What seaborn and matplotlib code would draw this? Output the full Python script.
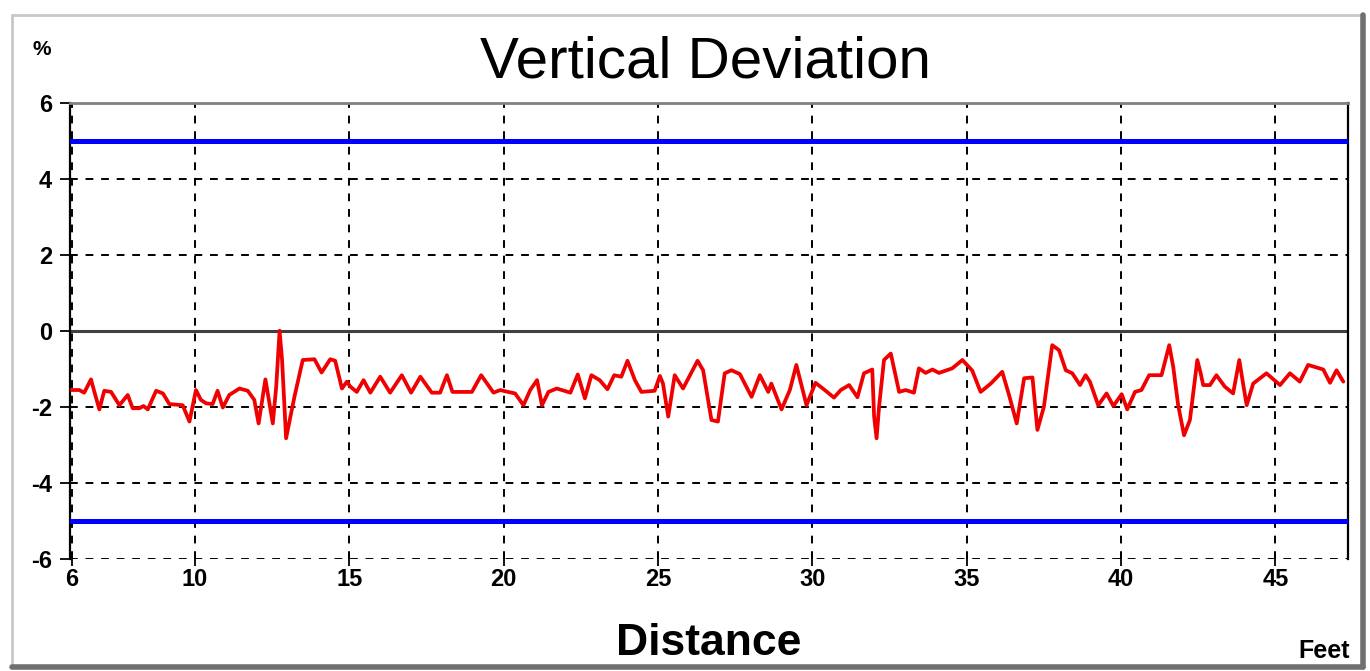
import pandas as pd
import matplotlib
matplotlib.use("Agg")
import matplotlib.pyplot as plt
import seaborn as sns
from matplotlib.lines import Line2D

# distance (feet) and vertical deviation (%)
distance = [6.0, 6.25, 6.41, 6.63, 6.74, 6.90, 7.06, 7.28, 7.55, 7.82, 7.98, 8.20, 8.33, 8.47,
            8.74, 8.96, 9.17, 9.60, 9.82, 10.03, 10.19, 10.36, 10.57, 10.73, 10.90, 11.11,
            11.44, 11.71, 11.92, 12.06, 12.28, 12.41, 12.52, 12.63, 12.74, 12.82, 12.95,
            13.22, 13.49, 13.87, 14.10, 14.38, 14.54, 14.76, 14.92, 15.03, 15.24, 15.46,
            15.68, 16.00, 16.32, 16.70, 17.00, 17.30, 17.67, 17.94, 18.16, 18.34, 18.97,
            19.27, 19.67, 19.89, 20.03, 20.37, 20.64, 20.86, 21.08, 21.24, 21.45, 21.72,
            22.16, 22.40, 22.63, 22.84, 23.11, 23.36, 23.58, 23.81, 24.01, 24.25, 24.46,
            24.89, 25.06, 25.16, 25.33, 25.54, 25.81, 26.28, 26.46, 26.73, 26.94, 27.16,
            27.38, 27.65, 28.03, 28.30, 28.57, 28.67, 29.00, 29.27, 29.48, 29.81, 30.10,
            30.40, 30.70, 30.92, 31.19, 31.46, 31.67, 31.94, 32.00, 32.08, 32.16, 32.32,
            32.54, 32.81, 33.02, 33.29, 33.45, 33.67, 33.89, 34.10, 34.53, 34.86, 35.18,
            35.45, 35.78, 36.15, 36.37, 36.62, 36.86, 37.13, 37.29, 37.50, 37.77, 37.99,
            38.21, 38.42, 38.67, 38.85, 38.99, 39.26, 39.53, 39.75, 40.02, 40.20, 40.45,
            40.66, 40.91, 41.31, 41.56, 41.69, 41.85, 42.04, 42.23, 42.47, 42.58, 42.66,
            42.88, 43.09, 43.36, 43.63, 43.83, 43.96, 44.07, 44.28, 44.71, 45.15, 45.47,
            45.79, 46.06, 46.55, 46.77, 46.98, 47.20]
deviation = [-1.56, -1.56, -1.63, -1.28, -1.61, -2.07, -1.58, -1.61, -1.96, -1.69, -2.04, -2.04,
             -1.98, -2.07, -1.58, -1.65, -1.93, -1.96, -2.39, -1.56, -1.82, -1.91, -1.93,
             -1.58, -2.02, -1.69, -1.52, -1.58, -1.82, -2.44, -1.28, -1.91, -2.44, -1.47,
             0.0, -0.77, -2.83, -1.74, -0.77, -0.75, -1.10, -0.75, -0.79, -1.52, -1.34,
             -1.47, -1.61, -1.30, -1.63, -1.21, -1.63, -1.17, -1.63, -1.21, -1.63, -1.63,
             -1.17, -1.61, -1.61, -1.17, -1.63, -1.56, -1.59, -1.65, -1.96, -1.56, -1.30,
             -1.96, -1.61, -1.52, -1.63, -1.15, -1.78, -1.17, -1.30, -1.54, -1.17, -1.21,
             -0.79, -1.30, -1.61, -1.58, -1.19, -1.39, -2.26, -1.17, -1.52, -0.79, -1.04,
             -2.35, -2.39, -1.12, -1.04, -1.14, -1.74, -1.17, -1.61, -1.39, -2.07, -1.56,
             -0.90, -1.96, -1.37, -1.56, -1.76, -1.56, -1.43, -1.75, -1.12, -1.02, -2.26,
             -2.83, -2.00, -0.77, -0.60, -1.61, -1.56, -1.63, -0.99, -1.11, -1.02, -1.11,
             -0.99, -0.77, -1.05, -1.61, -1.39, -1.08, -1.69, -2.44, -1.25, -1.23, -2.61,
             -2.00, -0.38, -0.51, -1.04, -1.12, -1.43, -1.17, -1.34, -1.96, -1.65, -1.98,
             -1.67, -2.07, -1.61, -1.56, -1.17, -1.17, -0.38, -0.95, -1.96, -2.75, -2.35,
             -0.77, -1.12, -1.43, -1.43, -1.17, -1.47, -1.65, -0.77, -1.43, -1.96, -1.39,
             -1.12, -1.43, -1.12, -1.34, -0.90, -1.02, -1.37, -1.04, -1.34]
limits = [5, -5]
x_ticks = [6, 10, 15, 20, 25, 30, 35, 40, 45]
y_ticks = [-6, -4, -2, 0, 2, 4, 6]

df = pd.DataFrame({"distance": distance, "deviation": deviation})

sns.set_style("white")
plt.rcParams["font.family"] = ["Liberation Sans", "DejaVu Sans"]
plt.rcParams["axes.unicode_minus"] = False
plt.rcParams["text.color"] = "black"
plt.rcParams["xtick.color"] = "black"
plt.rcParams["ytick.color"] = "black"

fig = plt.figure(figsize=(13.7, 6.71), dpi=100)
ax = fig.add_axes([0.0511, 0.1673, 0.9328, 0.6796])

ax.axhline(0, color="#404040", lw=2.2, zorder=2)
for lim in limits:
    ax.axhline(lim, color="#0000ff", lw=3.6, zorder=3)
sns.lineplot(data=df, x="distance", y="deviation", color="#f00000", lw=2.7,
             sort=False, ax=ax, zorder=4)

ax.set_xlim(5.95, 47.35)
ax.set_ylim(-6, 6)
ax.set_xticks(x_ticks)
ax.set_yticks(y_ticks)
ax.grid(True, color="black", linestyle=(0, (4, 4)), lw=1.4)
ax.tick_params(axis="x", direction="inout", length=10, width=1.3, pad=2,
               labelsize=17, bottom=True, colors="black")
ax.tick_params(axis="y", direction="out", length=7, width=1.3, pad=6,
               labelsize=17, left=True, colors="black")
for lab in ax.get_xticklabels() + ax.get_yticklabels():
    lab.set_fontweight("bold")
ax.set_xlabel("")
ax.set_ylabel("")

ax.spines["left"].set_color("black")
ax.spines["left"].set_linewidth(1.6)
ax.spines["right"].set_color("black")
ax.spines["right"].set_linewidth(1.6)
ax.spines["top"].set_color("#808080")
ax.spines["top"].set_linewidth(2)
ax.spines["bottom"].set_visible(False)

fig.text(0.515, 0.885, "Vertical Deviation", ha="center", va="baseline", fontsize=42,
         color="black")
fig.text(0.024, 0.918, "%", ha="left", va="baseline", fontsize=15, fontweight="bold",
         color="black")
fig.text(0.517, 0.024, "Distance", ha="center", va="baseline", fontsize=32,
         fontweight="bold", color="black")
fig.text(0.985, 0.019, "Feet", ha="right", va="baseline", fontsize=18, fontweight="bold",
         color="black")

# window-like frame around the chart
x0, x1 = 12 / 1370, 1363 / 1370
y0, y1 = 1 - 667 / 671, 1 - 15 / 671
fig.add_artist(Line2D([x0, x1], [y1, y1], color="#c8c8c8", lw=2, transform=fig.transFigure))
fig.add_artist(Line2D([x0, x0], [y0, y1], color="#c8c8c8", lw=2, transform=fig.transFigure))
fig.add_artist(Line2D([x1, x1], [y0, y1], color="#707070", lw=4, transform=fig.transFigure))
fig.add_artist(Line2D([x0, x1], [y0, y0], color="#707070", lw=4, transform=fig.transFigure))

fig.savefig("out.png", dpi=100)
